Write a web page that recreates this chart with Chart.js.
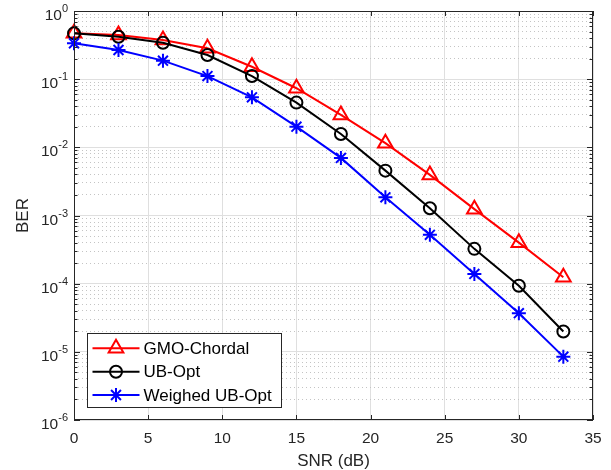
<!DOCTYPE html>
<html>
<head>
<meta charset="utf-8">
<script src="https://cdn.jsdelivr.net/npm/chart.js@4.4.1/dist/chart.umd.min.js"></script>
<style>
html,body{margin:0;padding:0;background:#fff;}
#wrap{width:611px;height:470px;position:relative;}
</style>
</head>
<body>
<div id="wrap"><canvas id="c" width="611" height="470"></canvas></div>
<script>
// ---- data ----
const snrDb = [0, 3, 6, 9, 12, 15, 18, 21, 24, 27, 30, 33];
const berGmoChordal = [0.47, 0.445, 0.376, 0.284, 0.152, 0.0736, 0.0299, 0.0115, 0.00394, 0.00124, 4.0e-4, 1.24e-4];
const berUbOpt = [0.47, 0.42, 0.343, 0.226, 0.111, 0.0453, 0.0157, 0.00455, 0.00128, 3.24e-4, 9.3e-5, 1.99e-5];
const berWeighedUbOpt = [0.336, 0.268, 0.187, 0.111, 0.0542, 0.0201, 0.0070, 0.00185, 5.2e-4, 1.39e-4, 3.69e-5, 8.5e-6];
const seriesNames = ['GMO-Chordal', 'UB-Opt', 'Weighed UB-Opt'];
const xTickValues = [0, 5, 10, 15, 20, 25, 30, 35];
const yDecadeExponents = [-6, -5, -4, -3, -2, -1, 0];
const yMinorMantissas = [1, 2, 3, 4, 5, 6, 7, 8, 9];
const xLabel = 'SNR (dB)';
const yLabel = 'BER';

const yTickValues = [];
yDecadeExponents.forEach(e => {
  if (e === 0) { yTickValues.push(1); return; }
  yMinorMantissas.forEach(m => yTickValues.push(m * Math.pow(10, e)));
});

const TXT = '#262626';
const FONT = '"Liberation Sans", Arial, Helvetica, sans-serif';

function drawMarker(ctx, style, x, y, color) {
  ctx.save();
  ctx.strokeStyle = color; ctx.lineWidth = 2; ctx.setLineDash([]);
  ctx.beginPath();
  if (style === 'triangle') {
    const r = 8.5;
    for (let i = 0; i < 3; i++) {
      const a = i * 2 * Math.PI / 3;
      const px = x + Math.sin(a) * r, py = y - Math.cos(a) * r;
      if (i === 0) ctx.moveTo(px, py); else ctx.lineTo(px, py);
    }
    ctx.closePath();
  } else if (style === 'circle') {
    ctx.arc(x, y, 6, 0, Math.PI * 2);
  } else {
    const r = 7;
    for (let i = 0; i < 4; i++) {
      const a = i * Math.PI / 4;
      ctx.moveTo(x - Math.cos(a) * r, y - Math.sin(a) * r);
      ctx.lineTo(x + Math.cos(a) * r, y + Math.sin(a) * r);
    }
  }
  ctx.stroke();
  ctx.restore();
}

const decorPlugin = {
  id: 'decor',
  afterDraw(chart) {
    const ctx = chart.ctx;
    const a = chart.chartArea;
    const xs = chart.scales.x, ys = chart.scales.y;
    ctx.save();
    // box
    ctx.strokeStyle = TXT; ctx.lineWidth = 1; ctx.setLineDash([]);
    ctx.strokeRect(a.left + 0.5, a.top + 0.5, a.right - a.left - 1, a.bottom - a.top - 1);
    // x ticks (bottom and top, inward)
    ctx.beginPath();
    xTickValues.forEach(v => {
      const px = Math.round(xs.getPixelForValue(v)) + 0.5;
      ctx.moveTo(px, a.bottom); ctx.lineTo(px, a.bottom - 5);
      ctx.moveTo(px, a.top); ctx.lineTo(px, a.top + 5);
    });
    // y ticks (left and right, inward)
    yTickValues.forEach(v => {
      const py = Math.round(ys.getPixelForValue(v)) + 0.5;
      const major = Math.abs(Math.log10(v) - Math.round(Math.log10(v))) < 1e-9;
      const len = major ? 6 : 3.5;
      ctx.moveTo(a.left, py); ctx.lineTo(a.left + len, py);
      ctx.moveTo(a.right, py); ctx.lineTo(a.right - len, py);
    });
    ctx.stroke();
    // y labels with superscripts
    ctx.fillStyle = TXT;
    ctx.textBaseline = 'alphabetic';
    yDecadeExponents.forEach(e => {
      const py = ys.getPixelForValue(Math.pow(10, e));
      const rightEdge = 68;
      ctx.font = '11px ' + FONT;
      const expStr = String(e).replace('-', '-');
      const ew = ctx.measureText(expStr).width;
      ctx.textAlign = 'left';
      ctx.fillText(expStr, rightEdge - ew, py + 1);
      ctx.font = '15.5px ' + FONT;
      ctx.textAlign = 'right';
      ctx.fillText('10', rightEdge - ew, py + 9);
    });
    // axis titles
    ctx.font = '17px ' + FONT;
    ctx.textAlign = 'center'; ctx.textBaseline = 'middle';
    ctx.fillText(xLabel, (a.left + a.right) / 2, 461);
    ctx.save();
    ctx.translate(23, (a.top + a.bottom) / 2);
    ctx.rotate(-Math.PI / 2);
    ctx.fillText(yLabel, 0, 0);
    ctx.restore();
    // legend
    const lx = 87.5, ly = 333.5, lw = 194, lh = 74;
    ctx.fillStyle = '#ffffff';
    ctx.fillRect(lx, ly, lw, lh);
    ctx.strokeStyle = TXT; ctx.lineWidth = 1;
    ctx.strokeRect(lx, ly, lw, lh);
    const rows = [348.3, 371.7, 395];
    chart.data.datasets.forEach((ds, i) => {
      const y = rows[i];
      ctx.strokeStyle = ds.borderColor; ctx.lineWidth = 2;
      ctx.beginPath(); ctx.moveTo(92.5, y); ctx.lineTo(139.5, y); ctx.stroke();
      drawMarker(ctx, ds.pointStyle, 116, y, ds.borderColor);
      ctx.fillStyle = '#000';
      ctx.font = '17px ' + FONT;
      ctx.textAlign = 'left'; ctx.textBaseline = 'middle';
      ctx.fillText(ds.label, 143.5, y + 1);
    });
    ctx.restore();
  }
};

function mkDataset(label, values, color, style, radius, order) {
  return {
    label: label,
    data: snrDb.map((x, i) => ({x: x, y: values[i]})),
    borderColor: color,
    backgroundColor: 'rgba(0,0,0,0)',
    pointBackgroundColor: 'rgba(0,0,0,0)',
    pointBorderColor: color,
    pointStyle: style,
    pointRadius: radius,
    pointBorderWidth: 2,
    borderWidth: 2,
    tension: 0,
    clip: false,
    order: order
  };
}

new Chart(document.getElementById('c'), {
  type: 'line',
  data: {
    datasets: [
      mkDataset(seriesNames[0], berGmoChordal, '#ff0000', 'triangle', 8.5, 3),
      mkDataset(seriesNames[1], berUbOpt, '#000000', 'circle', 6, 2),
      mkDataset(seriesNames[2], berWeighedUbOpt, '#0000ff', 'star', 7, 1)
    ]
  },
  options: {
    responsive: false,
    animation: false,
    devicePixelRatio: 1,
    layout: {padding: {left: 0, right: 18, top: 11, bottom: 0}},
    plugins: {legend: {display: false}, tooltip: {enabled: false}},
    elements: {point: {hoverRadius: 0}},
    scales: {
      x: {
        type: 'linear', min: 0, max: 35,
        afterBuildTicks: s => { s.ticks = xTickValues.map(v => ({value: v})); },
        afterFit: s => { s.height = 50; },
        ticks: {color: TXT, font: {family: FONT, size: 15.5}, padding: 9, maxRotation: 0},
        grid: {color: '#dfdfdf', lineWidth: 1, drawTicks: false},
        border: {display: false}
      },
      y: {
        type: 'logarithmic', min: 1e-6, max: 1,
        afterBuildTicks: s => { s.ticks = yTickValues.map(v => ({value: v})); },
        afterFit: s => { s.width = 74; },
        ticks: {display: false},
        grid: {
          drawTicks: false,
          lineWidth: 1,
          color: c => {
            const v = c.tick ? c.tick.value : 1;
            const major = Math.abs(Math.log10(v) - Math.round(Math.log10(v))) < 1e-9;
            return major ? '#dfdfdf' : '#c4c4c4';
          }
        },
        border: {
          display: false,
          dash: c => {
            const v = c.tick ? c.tick.value : 1;
            const major = Math.abs(Math.log10(v) - Math.round(Math.log10(v))) < 1e-9;
            return major ? [] : [1, 3];
          }
        }
      }
    }
  },
  plugins: [decorPlugin]
});
</script>
</body>
</html>
